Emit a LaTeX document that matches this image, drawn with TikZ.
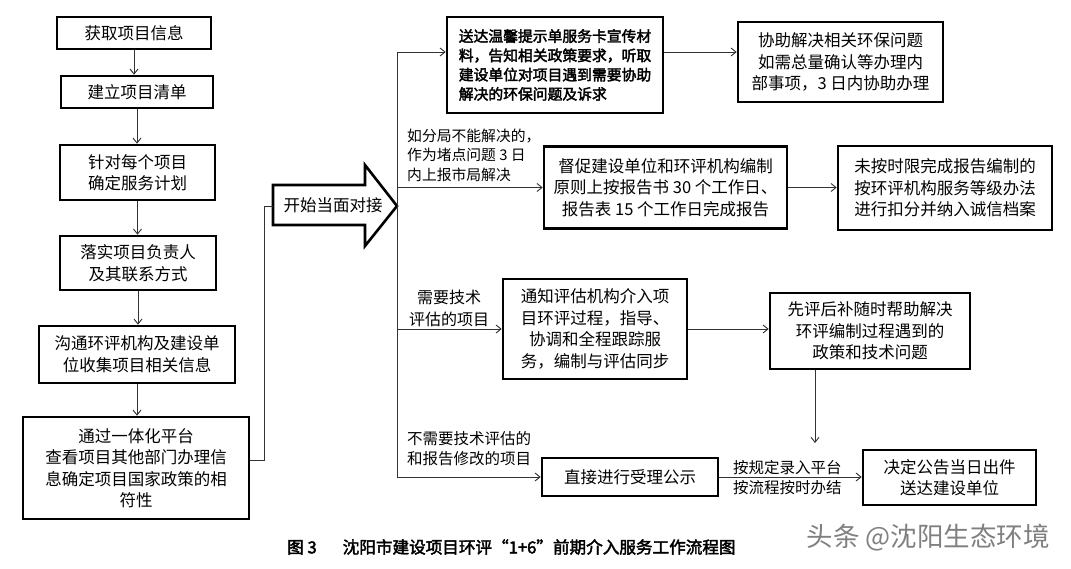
\documentclass[tikz,border=0pt]{standalone}
\usepackage{fontspec}
\setmainfont{Noto Sans CJK SC}[AutoFakeBold=2.5]
\usetikzlibrary{arrows.meta}
\newcommand{\fa}{\fontsize{16.5}{21.5}\selectfont}
\newcommand{\fb}{\bfseries\fontsize{14.8}{19.3}\selectfont}
\newcommand{\fl}{\fontsize{14.8}{19.5}\selectfont}
\newcommand{\fm}{\fontsize{15.5}{20}\selectfont}
\newcommand{\fcap}{\bfseries\fontsize{16.6}{18}\selectfont}
\begin{document}
\begin{tikzpicture}[x=1pt,y=-1pt,
 box/.style={draw, line width=2.6pt, fill=white, align=center, inner sep=0pt, font=\fa},
 conn/.style={draw=black!80, line width=0.9pt, -{Straight Barb[length=5pt,width=8pt]}},
 plain/.style={draw=black!80, line width=0.9pt},
 lbl/.style={align=left, inner sep=0pt, anchor=west},
]
\fill[white] (0,0) rectangle (1071,569);
\useasboundingbox (0,0) rectangle (1071,569);

% left column
\node[box, minimum width=154, minimum height=32] (b1) at (134,33) {获取项目信息};
\node[box, minimum width=152, minimum height=32] (b2) at (137,92) {建立项目清单};
\node[box, minimum width=155, minimum height=55] (b3) at (137.5,172.5) {针对每个项目\\确定服务计划};
\node[box, minimum width=156, minimum height=54] (b4) at (138,263) {落实项目负责人\\及其联系方式};
\node[box, minimum width=196, minimum height=57] (b5) at (137,354.5) {沟通环评机构及建设单\\位收集项目相关信息};
\node[box, minimum width=226, minimum height=102] (b6) at (136,468) {通过一体化平台\\查看项目其他部门办理信\\息确定项目国家政策的相\\符性};

\draw[conn] (b1.south) -- (b1.south |- b2.north);
\draw[conn] (b2.south) -- (b2.south |- b3.north);
\draw[conn] (b3.south) -- (b3.south |- b4.north);
\draw[conn] (b4.south) -- (b4.south |- b5.north);
\draw[conn] (b5.south) -- (b5.south |- b6.north);

% big arrow
\draw[line width=2.6pt, fill=white, line join=miter] (273,185) -- (365,185) -- (365,165) -- (397,206) -- (365,246) -- (365,225) -- (273,225) -- cycle;
\node[font=\fa, inner sep=0pt] (start) at (333,205) {开始当面对接};
\coordinate (startL) at (273,206);
\coordinate (startT) at (397,206);
\draw[plain] ([yshift=8pt]b6.east) -- ++(14,0) |- (startL);

% right side boxes
\node[box, minimum width=216, minimum height=96, align=left, font=\fb] (t1) at (555,65) {送达温馨提示单服务卡宣传材\\料，告知相关政策要求，听取\\建设单位对项目遇到需要协助\\解决的环保问题及诉求};
\node[box, minimum width=205, minimum height=80] (t2) at (840.5,62) {协助解决相关环保问题\\如需总量确认等办理内\\部事项，3 日内协助办理};
\node[box, minimum width=243, minimum height=82] (m1) at (665.5,187.5) {督促建设单位和环评机构编制\\原则上按报告书 30 个工作日、\\报告表 15 个工作日完成报告};
\node[box, minimum width=214, minimum height=84] (m2) at (945,188) {未按时限完成报告编制的\\按环评机构服务等级办法\\进行扣分并纳入诚信档案};
\node[box, minimum width=184, minimum height=100] (n1) at (595,329) {通知评估机构介入项\\目环评过程，指导、\\协调和全程跟踪服\\务，编制与评估同步};
\node[box, minimum width=200, minimum height=76] (n2) at (870,331) {先评后补随时帮助解决\\环评编制过程遇到的\\政策和技术问题};
\node[box, minimum width=176, minimum height=38] (d1) at (630,477) {直接进行受理公示};
\node[box, minimum width=173, minimum height=55] (d2) at (949.5,477.5) {决定公告当日出件\\送达建设单位};

% trunk and branches
\coordinate (tTop) at (397,52);
\coordinate (tBot) at (397,477);
\draw[plain] (tTop) -- (tBot);
\draw[conn] (tTop) -- (tTop -| t1.west);
\draw[conn] (t1.east |- tTop) -- (t2.west |- tTop);
\draw[conn] (tTop |- m1.west) -- (m1.west);
\draw[conn] (m1.east) -- (m1.east -| m2.west);
\draw[conn] (tTop |- n1.west) -- (n1.west);
\draw[conn] (n1.east) -- (n1.east -| n2.west);
\coordinate (dn) at (815,443);
\draw[conn] (dn |- n2.south) -- (dn);
\draw[conn] (tBot) -- (tBot -| d1.west);
\draw[conn] (d1.east) -- (d1.east -| d2.west);

% labels
\node[lbl, font=\fl] (l1) at (407,155) {如分局不能解决的，\\作为堵点问题 3 日\\内上报市局解决};
\node[inner sep=0pt, align=center, font=\fontsize{16}{22}\selectfont] (l2) at (449,308) {需要技术\\评估的项目};
\node[lbl, font=\fm] (l3) at (407,449) {不需要技术评估的\\和报告修改的项目};
\node[lbl, font=\fm] (l4) at (733,478) {按规定录入平台\\按流程按时办结};

% caption
\node[inner sep=0pt, font=\fcap, anchor=west] (cap) at (287,547) {图 3\hspace{26pt}沈阳市建设项目环评“1+6”前期介入服务工作流程图};
\node[inner sep=0pt, font=\fontsize{26.5}{28}\selectfont, text=black!50] (wm) at (928,538) {头条 @沈阳生态环境};
\end{tikzpicture}
\end{document}
